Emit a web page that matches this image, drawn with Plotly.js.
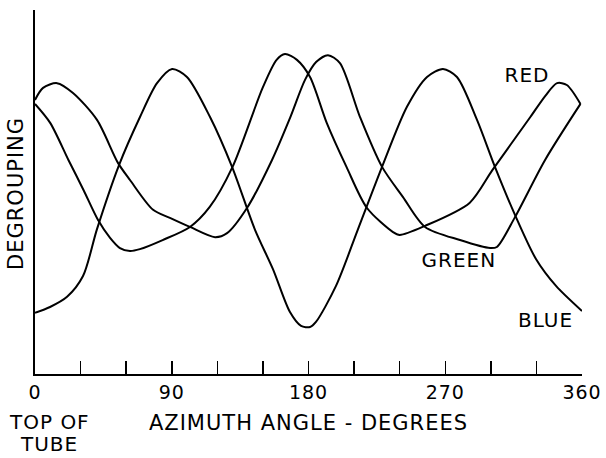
<!DOCTYPE html>
<html>
<head>
<meta charset="utf-8">
<script src="https://cdn.plot.ly/plotly-3.0.1.min.js"></script>
<style>
html,body{margin:0;padding:0;background:#fff;}
#chart{width:606px;height:458px;}
#chart text{letter-spacing:1px;}
</style>
</head>
<body>
<div id="chart"></div>
<script>
// Azimuth angle (degrees) and relative degrouping
const redAngle = [0, 10, 22, 32, 41.5, 49.4, 55.9, 62.5, 69, 84, 102, 115, 130, 150, 159, 164.5, 172.4, 181, 192, 205, 218.5, 235.6, 240, 256.7, 286, 301, 326, 336, 343.6, 350, 359];
const redValue = [74.2, 69.0, 58.8, 50.5, 42.3, 37.4, 34.6, 33.8, 34.3, 36.8, 40.4, 45.9, 56.9, 78.8, 86.3, 87.9, 86.3, 81.6, 69.0, 56.9, 45.6, 39.0, 38.2, 40.7, 47.0, 56.0, 70.6, 76.5, 79.9, 79.4, 74.2];

const greenAngle = [0, 5.3, 14.5, 25, 40.8, 54.6, 62.5, 77.7, 88.8, 102, 118.5, 126.4, 139.5, 156, 167.8, 177.7, 185, 192.8, 200.7, 213.9, 228.4, 242.2, 256.7, 279.7, 299.5, 304, 315.9, 335.7, 359];
const greenValue = [75.3, 78.6, 79.9, 77.2, 69.8, 58.0, 53.3, 45.1, 42.9, 40.4, 37.6, 38.7, 45.6, 58.8, 70.3, 80.8, 85.7, 87.6, 85.4, 70.6, 56.9, 48.6, 40.4, 36.8, 34.6, 34.9, 43.1, 58.8, 74.2];

const blueAngle = [0, 9.9, 21.1, 31.6, 40.8, 55.3, 69.1, 80.3, 90.2, 100, 115.2, 129.7, 144.8, 156.6, 167.8, 175.1, 181, 184.9, 198.1, 212.6, 228.4, 244.8, 258, 268.5, 277.7, 290.9, 302.7, 315.9, 329.7, 342.9, 360];
const blueValue = [16.8, 18.4, 21.2, 26.9, 39.8, 57.4, 70.6, 79.9, 83.8, 81.6, 70.6, 56.9, 39.6, 28.8, 17.0, 13.2, 12.9, 14.3, 24.2, 39.8, 56.9, 73.4, 81.6, 83.8, 81.6, 69.8, 56.9, 43.7, 31.6, 24.2, 17.3];

const tickAngles = [0, 30, 60, 90, 120, 150, 180, 210, 240, 270, 300, 330, 360];
const tickLabels = ['0', '', '', '90', '', '', '180', '', '', '270', '', '', '360'];

const FONT = 'DejaVu Sans, Liberation Sans, sans-serif';
const lineStyle = {color: '#000', width: 2, shape: 'spline', smoothing: 0.8};

const traces = [
  {x: redAngle, y: redValue, name: 'RED', mode: 'lines', line: lineStyle, hoverinfo: 'skip'},
  {x: greenAngle, y: greenValue, name: 'GREEN', mode: 'lines', line: lineStyle, hoverinfo: 'skip'},
  {x: blueAngle, y: blueValue, name: 'BLUE', mode: 'lines', line: lineStyle, hoverinfo: 'skip'}
];

const txt = (size) => ({family: FONT, size: size, color: '#000'});

const layout = {
  width: 606, height: 458,
  margin: {l: 35, r: 24, t: 10, b: 84},
  paper_bgcolor: '#fff', plot_bgcolor: '#fff',
  showlegend: false,
  font: txt(20),
  xaxis: {
    range: [0, 360], showgrid: false, zeroline: false,
    showline: true, linecolor: '#000', linewidth: 2,
    ticks: 'inside', ticklen: 13, tickwidth: 1.5, tickcolor: '#000',
    tickmode: 'array', tickvals: tickAngles, ticktext: tickLabels,
    tickfont: txt(19),
    title: {text: 'AZIMUTH ANGLE - DEGREES', font: txt(21), standoff: 14},
    automargin: false
  },
  yaxis: {
    range: [0, 100], showgrid: false, zeroline: false,
    showline: true, linecolor: '#000', linewidth: 2,
    showticklabels: false, ticks: '', automargin: false
  },
  annotations: [
    {text: 'RED', x: 323.8, y: 82.1, xref: 'x', yref: 'y', xanchor: 'center', yanchor: 'middle', showarrow: false, font: txt(20)},
    {text: 'GREEN', x: 279, y: 31.3, xref: 'x', yref: 'y', xanchor: 'center', yanchor: 'middle', showarrow: false, font: txt(20)},
    {text: 'BLUE', x: 335.7, y: 14.8, xref: 'x', yref: 'y', xanchor: 'center', yanchor: 'middle', showarrow: false, font: txt(20)},
    {text: 'TOP OF', x: 0.027, y: -0.132, xref: 'paper', yref: 'paper', xanchor: 'center', yanchor: 'middle', showarrow: false, font: txt(20)},
    {text: 'TUBE', x: 0.025, y: -0.192, xref: 'paper', yref: 'paper', xanchor: 'center', yanchor: 'middle', showarrow: false, font: txt(20)},
    {text: 'DEGROUPING', x: -0.035, y: 0.497, xref: 'paper', yref: 'paper', xanchor: 'center', yanchor: 'middle', textangle: -90, showarrow: false, font: txt(21)}
  ]
};

Plotly.newPlot('chart', traces, layout, {staticPlot: true, displayModeBar: false});
</script>
</body>
</html>
